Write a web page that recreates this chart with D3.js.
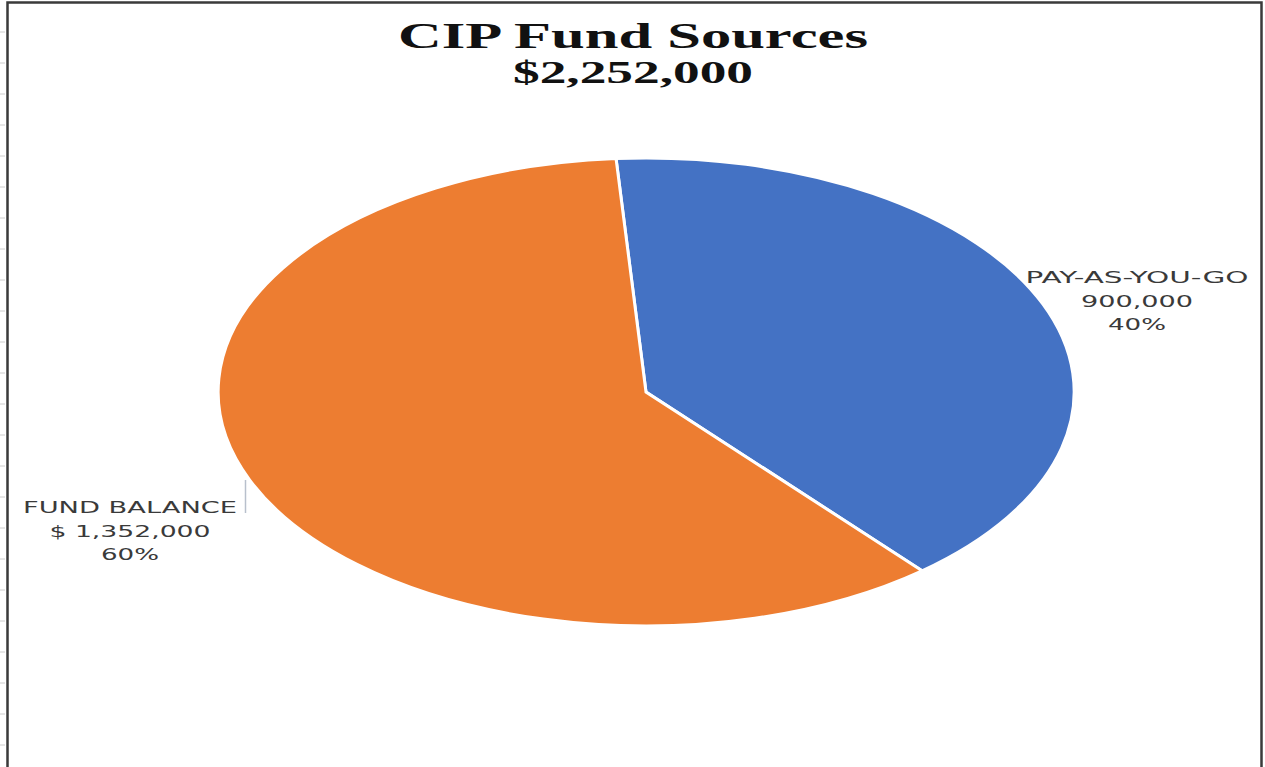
<!DOCTYPE html>
<html lang="en">
<head>
<meta charset="utf-8">
<title>CIP Fund Sources</title>
<script src="https://cdn.jsdelivr.net/npm/d3@7"></script>
<style>
  body { margin: 0; background: #fff; }
</style>
</head>
<body>
<script>
// data
var sources = ["PAY-AS-YOU-GO", "FUND BALANCE"];
var amounts = [900000, 1352000];
var amountLabels = ["900,000", "$ 1,352,000"];
var colors = ["#4472C4", "#ED7D31"];
var titleLines = ["CIP Fund Sources", "$2,252,000"];

var width = 1265, height = 767;
var cx = 646, cy = 392, rx = 428, ry = 234;

// the source picture is stretched sideways, so text is fitted to its widths
var titleLayout = [{ y: 48, size: 35, w: 470 }, { y: 83, size: 31, w: 240 }];
var labelLayout = [
    { x: 1137, y: 283, w: [223, 112, 58] },
    { x: 130, y: 513, w: [214, 161, 58] }
];

var svg = d3.select("body").append("svg")
    .attr("width", width)
    .attr("height", height);

// frame (top / left / right edges only)
svg.append("path")
    .attr("d", "M7.5,767 V2.5 H1261.5 V767")
    .attr("fill", "none")
    .attr("stroke", "#3a3a3a")
    .attr("stroke-width", 2.5);

// faint sheet ticks on the left edge
for (var t = 32; t < height; t += 31) {
    svg.append("line")
        .attr("x1", 0).attr("x2", 5)
        .attr("y1", t).attr("y2", t)
        .attr("stroke", "#ccc");
}

svg.selectAll(".title")
    .data(titleLines)
    .enter().append("text")
    .attr("class", "title")
    .attr("x", 633)
    .attr("y", function (d, i) { return titleLayout[i].y; })
    .attr("text-anchor", "middle")
    .attr("font-family", "Liberation Serif, Times New Roman, serif")
    .attr("font-weight", "bold")
    .attr("font-size", function (d, i) { return titleLayout[i].size + "px"; })
    .attr("textLength", function (d, i) { return titleLayout[i].w; })
    .attr("lengthAdjust", "spacingAndGlyphs")
    .attr("fill", "#111")
    .text(function (d) { return d; });

var total = d3.sum(amounts);
var pie = d3.pie().sort(null).startAngle(-0.07).endAngle(-0.07 + 2 * Math.PI);
var arcs = pie(amounts);
var arc = d3.arc().innerRadius(0).outerRadius(1);

var g = svg.append("g")
    .attr("transform", "translate(" + cx + "," + cy + ") scale(" + rx + "," + ry + ")");

g.selectAll("path")
    .data(arcs)
    .enter().append("path")
    .attr("d", arc)
    .attr("fill", function (d, i) { return colors[i]; })
    .attr("stroke", "#fff")
    .attr("stroke-width", 3)
    .attr("vector-effect", "non-scaling-stroke");

// data labels
arcs.forEach(function (d, i) {
    var lines = [sources[i], amountLabels[i], Math.round(amounts[i] / total * 100) + "%"];
    var lay = labelLayout[i];
    lines.forEach(function (s, j) {
        svg.append("text")
            .attr("x", lay.x)
            .attr("y", lay.y + j * 23.5)
            .attr("text-anchor", "middle")
            .attr("font-family", "DejaVu Sans, sans-serif")
            .attr("font-size", "16px")
            .attr("textLength", lay.w[j])
            .attr("lengthAdjust", "spacingAndGlyphs")
            .attr("fill", "#3a3a3a")
            .text(s);
    });
});

// leader line for the fund balance label
svg.append("line")
    .attr("x1", 245.5).attr("x2", 245.5)
    .attr("y1", 480).attr("y2", 513)
    .attr("stroke", "#b8c0cc")
    .attr("stroke-width", 1.5);
</script>
</body>
</html>
